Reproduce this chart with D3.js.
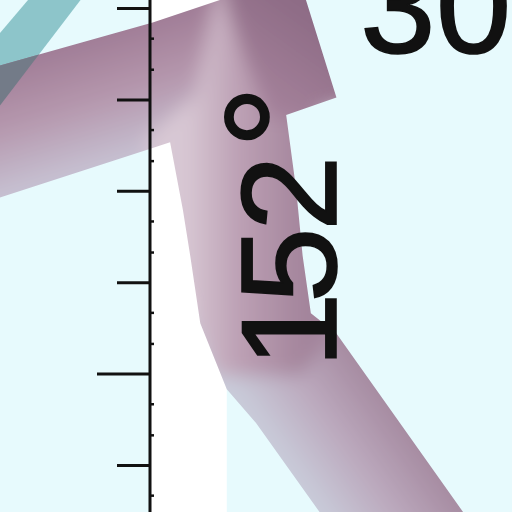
<!DOCTYPE html>
<html>
<head>
<meta charset="utf-8">
<script src="https://cdn.jsdelivr.net/npm/d3@7"></script>
<style>
  html, body { margin: 0; padding: 0; background: #e7fafd; }
  #viz { width: 512px; height: 512px; }
  .lbl { font-family: "Liberation Sans", Arial, sans-serif; fill: #111; stroke: #111; stroke-width: 1.6; }
</style>
</head>
<body>
<div id="viz"></div>
<script>
var width = 512;
var height = 512;

// axis ticks (map units, one unit per major tick)
var majorTicks = [0, 1, 2, 3, 4, 5];
var minorTicks = [-0.33, 0.33, 0.67, 1.33, 1.67, 2.33, 2.67, 3.33, 3.67, 4.33, 4.67];
var longTick = 1;

// flow bands, outlines in map units [x, y]
var tealBand = [[-1.29, 5.14], [-0.72, 5.14], [-1.75, 3.79], [-1.75, 4.60]];
var pinkBand = [[-1.75, 4.34], [0.03, 4.84], [0.92, 5.14], [1.69, 5.14], [2.04, 4.02], [1.49, 3.83],
                [1.60, 3.01], [1.67, 2.29], [1.76, 1.66], [2.04, 1.44], [3.50, -0.62], [1.93, -0.62],
                [1.16, 0.46], [0.84, 0.83], [0.55, 1.55], [0.44, 2.29], [0.36, 2.79], [0.22, 3.53],
                [-0.03, 3.45], [-1.75, 2.89]];
// shading pieces of the pink band
var pieceLeft = [[-2.08, 4.76], [0.11, 5.42], [1.31, 5.42], [0.71, 3.23], [0.33, 3.17], [0, 3.06], [-2.08, 2.46]];
var pieceLow = [[1.64, 1.91], [2.30, 1.59], [3.83, -0.71], [1.64, -0.82], [0.88, 0.38], [0.44, 0.82], [0.33, 1.59], [0.55, 1.91]];
var pieceMid = [[0.77, 5.42], [1.86, 5.42], [1.86, 3.83], [1.92, 3.01], [1.97, 2.29], [2.08, 1.70], [1.86, 1.26],
                [1.64, 0.98], [0.71, 0.98], [0.49, 1.48], [0.16, 2.29], [0.09, 2.79], [-0.05, 3.56], [0.49, 4.05]];
var pieceTop = [[0.80, 5.42], [1.97, 5.42], [2.35, 3.99], [1.64, 3.80], [1.31, 3.80], [1.04, 4.43], [0.82, 5.09]];
var whiteBand = [0.01, 0.84];

var labelChars = ["1", "5", "2", "°"];
var labelTop = "30";

var svg = d3.select("#viz")
  .append("svg")
  .attr("width", width)
  .attr("height", height)
  .attr("viewBox", "0 0 " + width + " " + height);

var x = d3.scaleLinear().domain([0, 1]).range([150, 241.4]);
var y = d3.scaleLinear().domain([0, 5]).range([465, 8]);

var line = d3.line()
  .x(function(d) { return x(d[0]); })
  .y(function(d) { return y(d[1]); })
  .curve(d3.curveLinearClosed);

var defs = svg.append("defs");

defs.append("clipPath").attr("id", "pinkClip")
  .append("path").attr("d", line(pinkBand));

defs.append("filter").attr("id", "soft")
  .attr("x", "-20%").attr("y", "-20%").attr("width", "140%").attr("height", "140%")
  .append("feGaussianBlur").attr("stdDeviation", 9);

function grad(id, p0, p1, stops) {
  var g = defs.append("linearGradient").attr("id", id)
    .attr("gradientUnits", "userSpaceOnUse")
    .attr("x1", x(p0[0])).attr("y1", y(p0[1]))
    .attr("x2", x(p1[0])).attr("y2", y(p1[1]));
  g.selectAll("stop").data(stops).enter().append("stop")
    .attr("offset", function(d) { return d[0]; })
    .attr("stop-color", function(d) { return d[1]; });
}
grad("gLeft", [-0.985, 4.65], [-0.569, 3.228], [[0, "#9e7a94"], [0.5, "#b597ad"], [1, "#c7c2d3"]]);
grad("gMid", [1.696, 3], [0.383, 3], [[0, "#a3849b"], [0.55, "#bca0b4"], [1, "#d8c8d4"]]);
grad("gTop", [1.641, 4.978], [1.094, 4.212], [[0, "#8e6c86"], [1, "#a27f98"]]);
grad("gLow", [1.521, -0.055], [2.571, 0.7], [[0, "#c9ccda"], [0.5, "#bcaabe"], [1, "#a68ba1"]]);

// background
svg.append("rect")
  .attr("width", width).attr("height", height)
  .attr("fill", "#e7fafd");

// white strip right of the axis
svg.append("rect")
  .attr("x", x(whiteBand[0]))
  .attr("y", y(5.3))
  .attr("width", x(whiteBand[1]) - x(whiteBand[0]))
  .attr("height", y(-0.7) - y(5.3))
  .attr("fill", "#ffffff");

// teal band
svg.append("path")
  .attr("d", line(tealBand))
  .attr("fill", "#8dc5ca");

// pink band, shaded pieces blurred inside the outline
var pinkG = svg.append("g").attr("clip-path", "url(#pinkClip)")
  .append("g").attr("filter", "url(#soft)");
pinkG.append("path").attr("d", line(pieceLeft)).attr("fill", "url(#gLeft)");
pinkG.append("path").attr("d", line(pieceLow)).attr("fill", "url(#gLow)");
pinkG.append("path").attr("d", line(pieceMid)).attr("fill", "url(#gMid)");
pinkG.append("path").attr("d", line(pieceTop)).attr("fill", "url(#gTop)");

// where teal runs under the pink
svg.append("g").attr("clip-path", "url(#pinkClip)")
  .append("path")
  .attr("d", line(tealBand))
  .attr("fill", "#737b88");

// axis
var axisG = svg.append("g").attr("transform", "translate(" + x(0) + ",0)");
axisG.append("line")
  .attr("x1", 0).attr("x2", 0)
  .attr("y1", y(-0.7)).attr("y2", y(5.3))
  .attr("stroke", "#111").attr("stroke-width", 3);

var major = axisG.append("g").call(d3.axisLeft(y).tickValues(majorTicks).tickSize(33).tickFormat(""));
major.select(".domain").remove();
major.selectAll(".tick line")
  .attr("stroke", "#111").attr("stroke-width", 3)
  .attr("x2", function(d) { return d == longTick ? -53 : -33; });

var minor = axisG.append("g").call(d3.axisRight(y).tickValues(minorTicks).tickSize(4).tickFormat(""));
minor.select(".domain").remove();
minor.selectAll(".tick line").attr("stroke", "#111").attr("stroke-width", 2.5);

// labels
var charPos = [0, 65, 137, 219];
var rot = svg.append("text")
  .attr("class", "lbl")
  .attr("transform", "translate(" + x(2.035) + "," + y(1.061) + ") rotate(-90)")
  .attr("font-size", 136);
rot.selectAll("tspan").data(labelChars).enter().append("tspan")
  .attr("x", function(d, i) { return charPos[i]; })
  .attr("font-size", function(d, i) { return i == 3 ? 160 : 136; })
  .text(function(d) { return d; });

svg.append("text")
  .attr("class", "lbl")
  .attr("x", x(2.298))
  .attr("y", y(4.508))
  .attr("font-size", 136)
  .text(labelTop);
</script>
</body>
</html>
